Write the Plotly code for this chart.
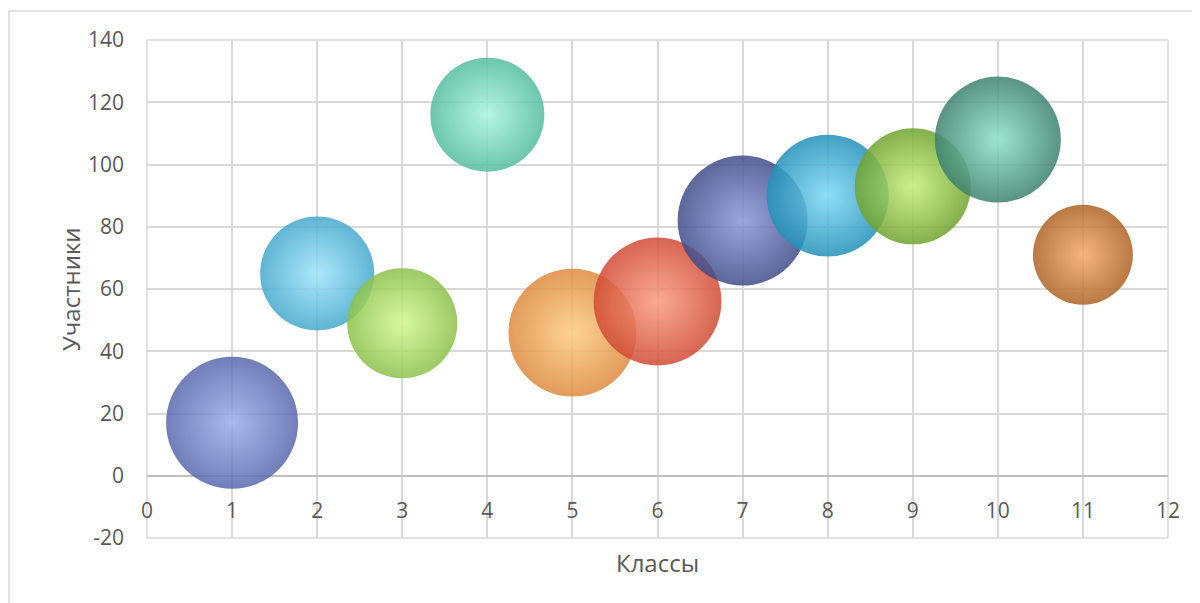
import plotly.graph_objects as go

classes = [1, 2, 3, 4, 5, 6, 7, 8, 9, 10, 11]
participants = [17, 65, 49, 116, 46, 56, 82, 90, 93, 108, 71]
bubble_size = [26, 19.4, 18.1, 19.4, 24.4, 24.4, 25.2, 22.2, 20.1, 23.7, 14.9]

x_ticks = [0, 1, 2, 3, 4, 5, 6, 7, 8, 9, 10, 11, 12]
y_ticks = [-20, 0, 20, 40, 60, 80, 100, 120, 140]
y_tick_labels = ["-20", "0", "20", "40", "60", "80", "100", "120", "140"]

edge_colors = ["#5868ac", "#44a8cc", "#8cc04a", "#52bc9e", "#dd8a3e", "#d04a34",
               "#3f4c88", "#2290b8", "#70a22e", "#3c806e", "#ad6224"]
center_colors = ["#9cacec", "#9ee4fb", "#d2f790", "#a8f4dc", "#fdcc80", "#fa9a80",
                 "#8896d8", "#7cd8f6", "#c4ee78", "#8ce0c8", "#f4a868"]

max_diam = 132

fig = go.Figure()
for i in range(len(classes)):
    fig.add_trace(go.Scatter(
        x=[classes[i]], y=[participants[i]],
        mode="markers",
        marker=dict(
            size=[bubble_size[i]],
            sizemode="area",
            sizeref=2.0 * max(bubble_size) / (max_diam ** 2),
            color=edge_colors[i],
            gradient=dict(type="radial", color=center_colors[i]),
            opacity=0.85,
            line=dict(width=0),
        ),
        showlegend=False,
        hoverinfo="x+y",
    ))

font_family = "Open Sans, Noto Sans, sans-serif"
tick_font = dict(family=font_family, size=21, color="#595959")

fig.update_layout(
    width=1200, height=603,
    margin=dict(l=139, r=40, t=32, b=73),
    paper_bgcolor="white",
    plot_bgcolor="white",
    font=dict(family=font_family, color="#595959"),
    xaxis=dict(
        range=[0, 12], tickvals=x_ticks,
        showgrid=True, gridcolor="#d9d9d9", gridwidth=1.5,
        zeroline=False,
        anchor="free", position=0.125,
        showline=False,
        tickfont=tick_font,
        ticks="", ticklabelstandoff=20,
    ),
    yaxis=dict(
        range=[-20, 140], tickvals=y_ticks, ticktext=y_tick_labels,
        showgrid=True, gridcolor="#d9d9d9", gridwidth=1.5,
        zeroline=True, zerolinecolor="#bfbfbf", zerolinewidth=1.5,
        showline=False,
        tickfont=tick_font,
        ticks="", ticklabelstandoff=22,
    ),
    shapes=[
        dict(type="line", xref="paper", yref="paper",
             x0=-0.1352, x1=1.1, y0=1.0582, y1=1.0582,
             line=dict(color="#d9d9d9", width=1.5)),
        dict(type="line", xref="paper", yref="paper",
             x0=-0.1352, x1=-0.1352, y0=-0.3, y1=1.0582,
             line=dict(color="#d9d9d9", width=1.5)),
        dict(type="line", xref="paper", yref="paper",
             x0=0, x1=1, y0=0, y1=0,
             line=dict(color="#d9d9d9", width=1.5), layer="below"),
        dict(type="line", xref="paper", yref="paper",
             x0=0, x1=1, y0=1, y1=1,
             line=dict(color="#d9d9d9", width=1.5), layer="below"),
        dict(type="line", xref="paper", yref="paper",
             x0=0, x1=0, y0=0, y1=1,
             line=dict(color="#d9d9d9", width=1.5), layer="below"),
        dict(type="line", xref="paper", yref="paper",
             x0=1, x1=1, y0=0, y1=1,
             line=dict(color="#d9d9d9", width=1.5), layer="below"),
    ],
    annotations=[
        dict(text="Классы", xref="paper", yref="paper", x=0.5, y=-0.05,
             showarrow=False, xanchor="center", yanchor="middle",
             font=dict(family=font_family, size=24, color="#595959")),
        dict(text="Участники", xref="paper", yref="paper", x=-0.0754, y=0.5,
             showarrow=False, xanchor="center", yanchor="middle", textangle=-90,
             font=dict(family=font_family, size=24, color="#595959")),
    ],
)

fig.write_html("out.html")
